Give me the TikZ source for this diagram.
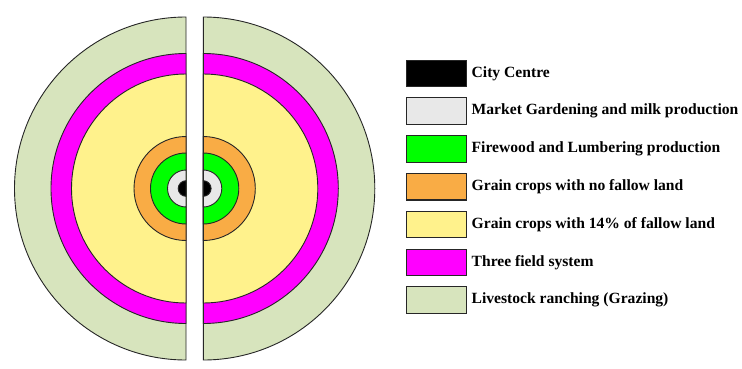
\documentclass[tikz,border=0pt]{standalone}
\usepackage{fontspec}
\setmainfont{Liberation Serif}
\definecolor{cCity}{HTML}{000000}
\definecolor{cMarket}{HTML}{E8E8E8}
\definecolor{cFire}{HTML}{00FF00}
\definecolor{cGrainA}{HTML}{F9AC45}
\definecolor{cGrainB}{HTML}{FFF28C}
\definecolor{cThree}{HTML}{FF00FF}
\definecolor{cLive}{HTML}{D7E4BD}
\begin{document}
\begin{tikzpicture}[x=1pt,y=1pt,
  ring/.style={draw=black!85,line width=0.9pt,line join=miter},
  keybox/.style={draw=black!85,line width=1.1pt,minimum width=60.5pt,minimum height=26.5pt,inner sep=0pt},
  keytext/.style={anchor=west,inner sep=0pt,font=\fontsize{15.6}{18}\selectfont\bfseries}]
\useasboundingbox (0,0) rectangle (742,368);
\fill[white] (0,0) rectangle (742,368);
% half rings, largest first
\foreach \r/\c in {171.5/cLive,135/cThree,114.5/cGrainB,52/cGrainA,35.5/cFire,18.5/cMarket,7.8/cCity}{
  \draw[ring,fill=\c] (186,179.5) ++(90:\r) arc[start angle=90,end angle=270,radius=\r] -- cycle;
  \draw[ring,fill=\c] (203.3,179.5) ++(-90:\r) arc[start angle=-90,end angle=90,radius=\r] -- cycle;
}
% legend
\node[keybox,fill=cCity]   (b1) at (436.3,368-73.3) {};
\node[keybox,fill=cMarket] (b2) at (436.3,368-111.1) {};
\node[keybox,fill=cFire]   (b3) at (436.3,368-148.9) {};
\node[keybox,fill=cGrainA] (b4) at (436.3,368-186.7) {};
\node[keybox,fill=cGrainB] (b5) at (436.3,368-224.5) {};
\node[keybox,fill=cThree]  (b6) at (436.3,368-262.3) {};
\node[keybox,fill=cLive]   (b7) at (436.3,368-300.1) {};
\node[keytext] (t1) at (471.5,368-73.3) {City Centre};
\node[keytext] (t2) at (471.5,368-111.1) {Market Gardening and milk production};
\node[keytext] (t3) at (471.5,368-148.9) {Firewood and Lumbering production};
\node[keytext] (t4) at (471.5,368-186.7) {Grain crops with no fallow land};
\node[keytext] (t5) at (471.5,368-224.5) {Grain crops with 14\% of fallow land};
\node[keytext] (t6) at (471.5,368-262.3) {Three field system};
\node[keytext] (t7) at (471.5,368-300.1) {Livestock ranching (Grazing)};
\end{tikzpicture}
\end{document}
